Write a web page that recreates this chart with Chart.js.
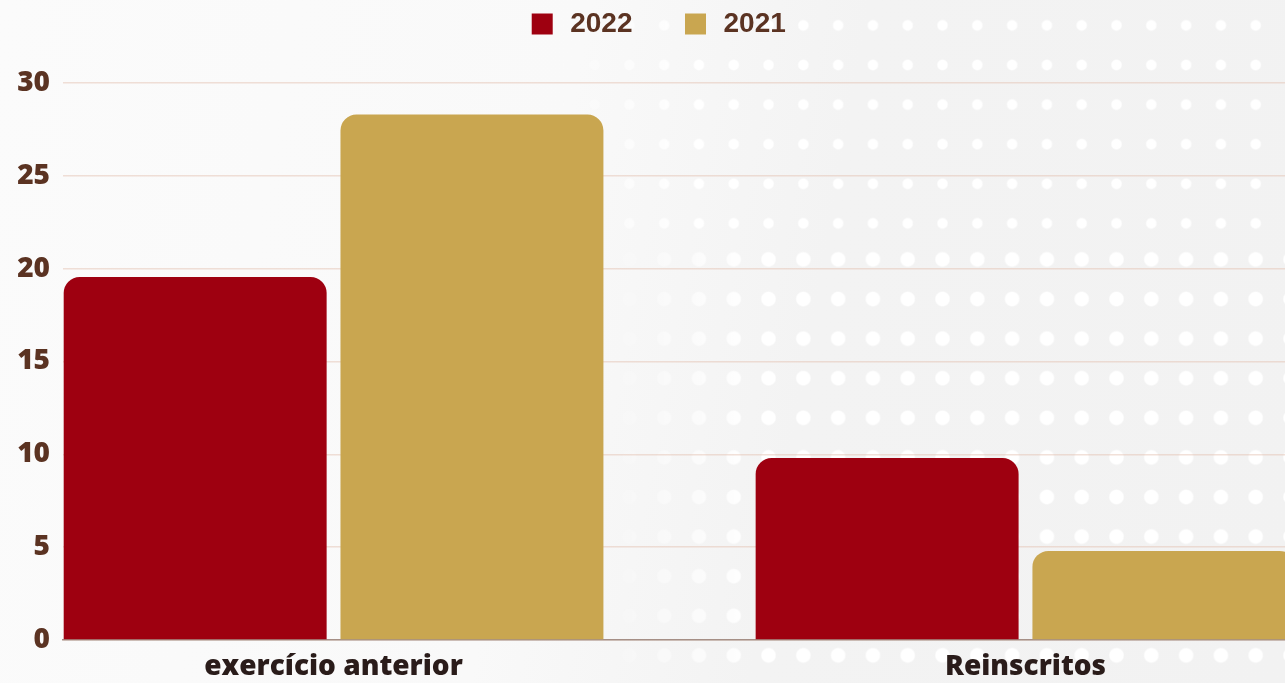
<!DOCTYPE html>
<html lang="pt">
<head>
<meta charset="utf-8">
<title>2022 x 2021</title>
<script src="https://cdn.jsdelivr.net/npm/chart.js@4/dist/chart.umd.min.js"></script>
<style>
  html, body { margin: 0; padding: 0; }
  body {
    width: 1285px; height: 683px; overflow: hidden; position: relative;
    background: linear-gradient(100deg, #fbfbfb 0%, #f9f9f9 42%, #f3f3f3 62%, #f2f2f2 100%);
  }
  .dots {
    position: absolute; inset: 0;
    background-size: 34.8px 39.6px;
    background-position: -14.4px 5.6px;
  }
  #dots-top {
    background-image: radial-gradient(circle, #ffffff 0 4.5px, rgba(255,255,255,0) 6px);
    -webkit-mask-image: linear-gradient(to right, transparent 540px, #000 700px);
    mask-image: linear-gradient(to right, transparent 540px, #000 700px);
    bottom: 440px;
  }
  #dots-bottom {
    background-image: radial-gradient(circle, #ffffff 0 6.5px, rgba(255,255,255,0) 8px);
    -webkit-mask-image: linear-gradient(to right, transparent 600px, #000 760px);
    mask-image: linear-gradient(to right, transparent 600px, #000 760px);
    top: 243px;
    background-position: -14.4px -3.4px;
  }
  #chart { position: absolute; left: 0; top: 0; }
</style>
</head>
<body>
<div class="dots" id="dots-top"></div>
<div class="dots" id="dots-bottom"></div>
<canvas id="chart" width="1285" height="683"></canvas>
<script>
// --- data ---
const categories = ['exercício anterior', 'Reinscritos'];
const values2022 = [19.55, 9.8];
const values2021 = [28.3, 4.8];
const yTicks = [0, 5, 10, 15, 20, 25, 30];

const tickColor = '#5b3322';
const labelColor = '#2a1c1a';

// legend sits higher than chart.js would put it, so give it extra room below
const legendSpace = {
    id: 'legendSpace',
    beforeInit(chart) {
        const fit = chart.legend.fit;
        chart.legend.fit = function () {
            fit.call(this);
            this.height = 122;
        };
    }
};

document.addEventListener('DOMContentLoaded', () => {
    const ctx = document.getElementById('chart');

    new Chart(ctx, {
        type: 'bar',
        data: {
            datasets: [{
                label: '2022',
                data: values2022.map((v, i) => ({ x: i, y: v })),
                backgroundColor: '#9e0010',
            }, {
                label: '2021',
                data: values2021.map((v, i) => ({ x: i, y: v })),
                backgroundColor: '#c9a650',
            }]
        },
        options: {
            responsive: false,
            animation: false,
            devicePixelRatio: 1,
            // negative right padding only moves the legend centre; plot stays on canvas
            layout: { padding: { top: -39, left: 0, right: -29, bottom: 0 } },
            datasets: {
                bar: {
                    categoryPercentage: 0.8,
                    barPercentage: 0.95,
                    borderRadius: { topLeft: 16, topRight: 16 },
                    borderSkipped: 'start'
                }
            },
            scales: {
                x: {
                    type: 'linear',
                    min: -0.391,
                    max: 1.375,
                    bounds: 'data',
                    offset: false,
                    grid: { display: false },
                    border: { display: true, color: '#a58f86', width: 1.5 },
                    ticks: {
                        color: labelColor,
                        font: { family: '"Open Sans", sans-serif', size: 28, weight: '800' },
                        padding: 2,
                        maxRotation: 0,
                        autoSkip: false,
                        callback: (v) => categories[v]
                    },
                    afterBuildTicks: (s) => { s.ticks = categories.map((c, i) => ({ value: i })); },
                    afterFit: (s) => { s.height = 43; }
                },
                y: {
                    min: 0,
                    max: 30,
                    grid: { color: 'rgba(228, 194, 178, 0.5)', lineWidth: 1.5, drawTicks: false },
                    border: { display: false },
                    ticks: {
                        color: tickColor,
                        font: { family: '"Open Sans", sans-serif', size: 28, weight: '800' },
                        padding: 13
                    },
                    afterBuildTicks: (s) => { s.ticks = yTicks.map(v => ({ value: v })); },
                    afterFit: (s) => { s.width = 63; }
                }
            },
            plugins: {
                legend: {
                    position: 'top',
                    labels: {
                        usePointStyle: true,
                        pointStyle: 'rect',
                        boxWidth: 28,
                        boxHeight: 21,
                        padding: 49,
                        color: tickColor,
                        font: { family: '"Liberation Sans", Arial, sans-serif', size: 28, weight: 'bold' }
                    }
                },
                tooltip: { enabled: false }
            }
        },
        plugins: [legendSpace]
    });
});
</script>
</body>
</html>
